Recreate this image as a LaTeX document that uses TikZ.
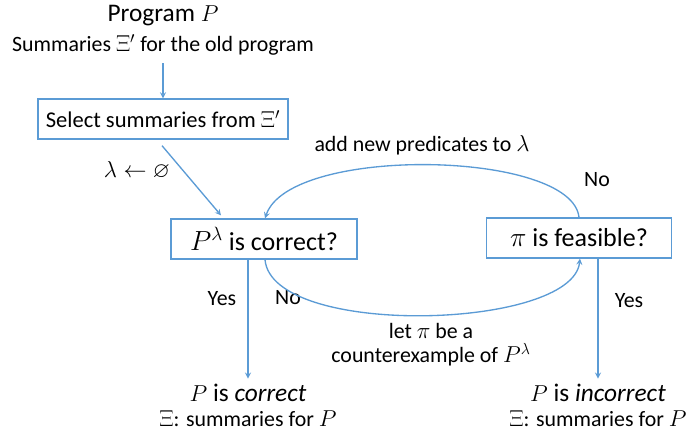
\documentclass[tikz,border=0pt]{standalone}
\usepackage{amssymb}
\usepackage{fontspec}
\setmainfont{Carlito}
\usetikzlibrary{arrows, calc}
\definecolor{flowblue}{HTML}{5B9BD5}
\tikzstyle{process} = [rectangle, minimum height=30pt, text centered, draw=flowblue, line width=1pt, inner xsep=6pt]
\tikzstyle{result} = [text centered, inner sep=1pt, font=\fontsize{19}{21}\selectfont]
\tikzstyle{note} = [text centered, inner sep=1pt, font=\fontsize{16.4}{18}\selectfont]
\tikzstyle{arrow} = [draw=flowblue, line width=1pt, ->, >=stealth]

\begin{document}
\begin{tikzpicture}[x=0.75pt, y=-0.75pt]
\useasboundingbox (0,0) rectangle (699,437);

\node (prog) [result] at (163,16) {Program $P$};
\node (old) [note] at (163,45) {Summaries $\Xi'$ for the old program};

\node (sel) [process, minimum width=184.5pt, font=\fontsize{16.9}{18}\selectfont] at (163,119) {Select summaries from $\Xi'$};

\node (chk) [process, minimum width=139.5pt, font=\fontsize{19.5}{21}\selectfont] at (264,239) {$P^{\lambda}$ is correct?};
\node (feas) [process, minimum width=138.75pt, font=\fontsize{19.5}{21}\selectfont] at (579,238) {$\pi$ is feasible?};

\node (ok) [result] at (248,393) {$P$ is \textit{correct}};
\node (oksum) [note] at (248,419) {$\Xi$: summaries for $P$};
\node (bad) [result] at (598,393) {$P$ is \textit{incorrect}};
\node (badsum) [note] at (598,419) {$\Xi$: summaries for $P$};

% labels
\node (empty) [note] at (137,170) {$\lambda \leftarrow \varnothing$};
\node (addp) [note] at (422,145) {add new predicates to $\lambda$};
\node (nofeas) [note] at (597,180) {No};
\node (nochk) [note] at (288,298) {No};
\node (yeschk) [note] at (222,299) {Yes};
\node (yesfeas) [note] at (629,301) {Yes};
\node (cex) [note, align=center] at (431,345) {let $\pi$ be a\\counterexample of $P^{\lambda}$};

\draw [arrow] ($(old.south)+(0,6)$) -- (sel.north);
\draw [arrow] ($(sel.south)+(-1,6)$) -- ($(chk.north)+(-43,-3)$);
\draw [arrow] (feas.north) .. controls (572,150) and (290,145) .. ($(chk.north)+(1,0)$);
\draw [arrow] ($(chk.south)+(1,0)$) .. controls (272,338) and (572,330) .. ($(feas.south)+(1,0)$);
\draw [arrow] ($(chk.south)+(-16,0)$) -- ($(ok.north)+(0,-4)$);
\draw [arrow] ($(feas.south)+(19,0)$) -- ($(bad.north)+(0,-4)$);
\end{tikzpicture}
\end{document}
